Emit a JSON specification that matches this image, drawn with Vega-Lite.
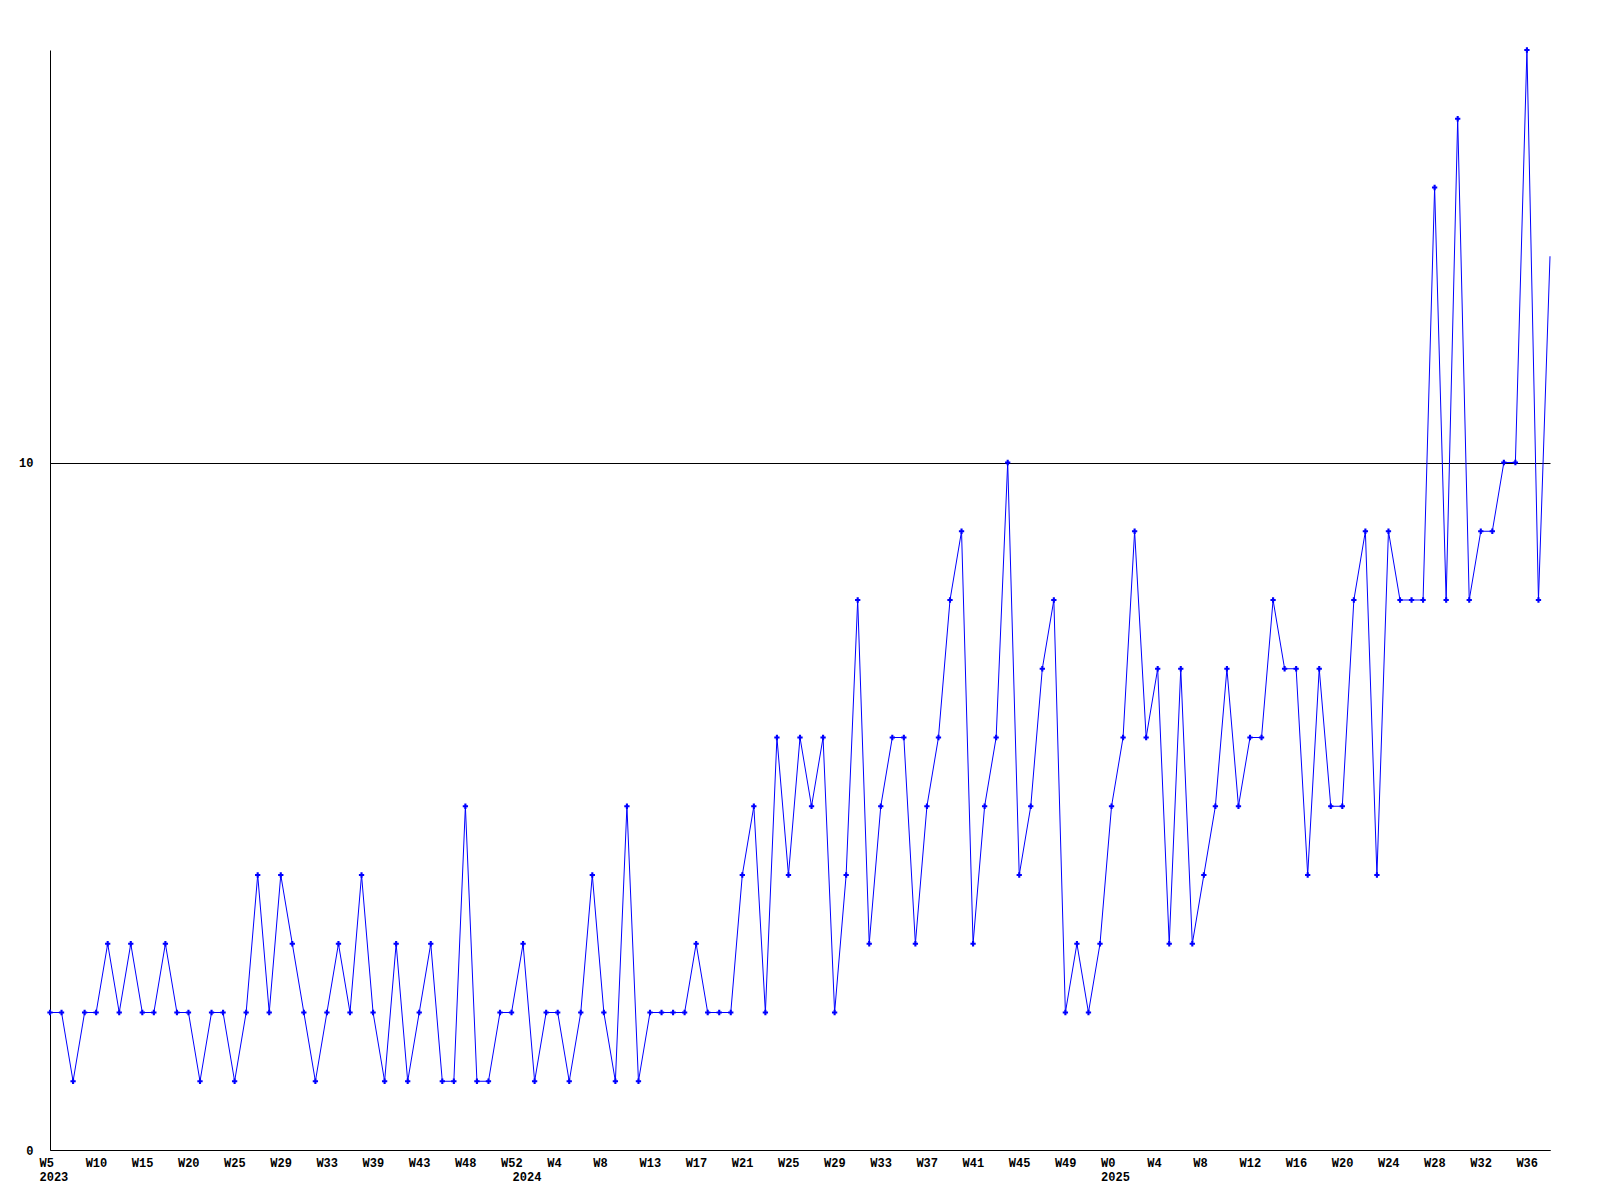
{
  "$schema": "https://vega.github.io/schema/vega-lite/v6.json",
  "width": 1500,
  "height": 1100,
  "autosize": {"type": "none"},
  "padding": {"left": 50, "top": 50, "right": 50, "bottom": 50},
  "background": "white",
  "config": {"view": {"stroke": null}, "font": "Liberation Mono"},
  "data": {"values": [
    {"wk": "2023-W5", "n": 2}, {"wk": "2023-W6", "n": 2}, {"wk": "2023-W7", "n": 1}, {"wk": "2023-W8", "n": 2},
    {"wk": "2023-W10", "n": 2}, {"wk": "2023-W11", "n": 3}, {"wk": "2023-W12", "n": 2}, {"wk": "2023-W13", "n": 3},
    {"wk": "2023-W15", "n": 2}, {"wk": "2023-W16", "n": 2}, {"wk": "2023-W17", "n": 3}, {"wk": "2023-W18", "n": 2},
    {"wk": "2023-W20", "n": 2}, {"wk": "2023-W21", "n": 1}, {"wk": "2023-W22", "n": 2}, {"wk": "2023-W23", "n": 2},
    {"wk": "2023-W25", "n": 1}, {"wk": "2023-W26", "n": 2}, {"wk": "2023-W27", "n": 4}, {"wk": "2023-W28", "n": 2},
    {"wk": "2023-W29", "n": 4}, {"wk": "2023-W30", "n": 3}, {"wk": "2023-W31", "n": 2}, {"wk": "2023-W32", "n": 1},
    {"wk": "2023-W33", "n": 2}, {"wk": "2023-W35", "n": 3}, {"wk": "2023-W37", "n": 2}, {"wk": "2023-W38", "n": 4},
    {"wk": "2023-W39", "n": 2}, {"wk": "2023-W40", "n": 1}, {"wk": "2023-W41", "n": 3}, {"wk": "2023-W42", "n": 1},
    {"wk": "2023-W43", "n": 2}, {"wk": "2023-W45", "n": 3}, {"wk": "2023-W46", "n": 1}, {"wk": "2023-W47", "n": 1},
    {"wk": "2023-W48", "n": 5}, {"wk": "2023-W49", "n": 1}, {"wk": "2023-W50", "n": 1}, {"wk": "2023-W51", "n": 2},
    {"wk": "2023-W52", "n": 2},
    {"wk": "2024-W1", "n": 3}, {"wk": "2024-W2", "n": 1}, {"wk": "2024-W3", "n": 2}, {"wk": "2024-W4", "n": 2},
    {"wk": "2024-W5", "n": 1}, {"wk": "2024-W6", "n": 2}, {"wk": "2024-W7", "n": 4}, {"wk": "2024-W8", "n": 2},
    {"wk": "2024-W10", "n": 1}, {"wk": "2024-W11", "n": 5}, {"wk": "2024-W12", "n": 1}, {"wk": "2024-W13", "n": 2},
    {"wk": "2024-W14", "n": 2}, {"wk": "2024-W15", "n": 2}, {"wk": "2024-W16", "n": 2}, {"wk": "2024-W17", "n": 3},
    {"wk": "2024-W18", "n": 2}, {"wk": "2024-W19", "n": 2}, {"wk": "2024-W20", "n": 2}, {"wk": "2024-W21", "n": 4},
    {"wk": "2024-W22", "n": 5}, {"wk": "2024-W23", "n": 2}, {"wk": "2024-W24", "n": 6}, {"wk": "2024-W25", "n": 4},
    {"wk": "2024-W26", "n": 6}, {"wk": "2024-W27", "n": 5}, {"wk": "2024-W28", "n": 6}, {"wk": "2024-W29", "n": 2},
    {"wk": "2024-W30", "n": 4}, {"wk": "2024-W31", "n": 8}, {"wk": "2024-W32", "n": 3}, {"wk": "2024-W33", "n": 5},
    {"wk": "2024-W34", "n": 6}, {"wk": "2024-W35", "n": 6}, {"wk": "2024-W36", "n": 3}, {"wk": "2024-W37", "n": 5},
    {"wk": "2024-W38", "n": 6}, {"wk": "2024-W39", "n": 8}, {"wk": "2024-W40", "n": 9}, {"wk": "2024-W41", "n": 3},
    {"wk": "2024-W42", "n": 5}, {"wk": "2024-W43", "n": 6}, {"wk": "2024-W44", "n": 10}, {"wk": "2024-W45", "n": 4},
    {"wk": "2024-W46", "n": 5}, {"wk": "2024-W47", "n": 7}, {"wk": "2024-W48", "n": 8}, {"wk": "2024-W49", "n": 2},
    {"wk": "2024-W50", "n": 3}, {"wk": "2024-W51", "n": 2}, {"wk": "2024-W52", "n": 3},
    {"wk": "2025-W0", "n": 5}, {"wk": "2025-W1", "n": 6}, {"wk": "2025-W2", "n": 9}, {"wk": "2025-W3", "n": 6},
    {"wk": "2025-W4", "n": 7}, {"wk": "2025-W5", "n": 3}, {"wk": "2025-W6", "n": 7}, {"wk": "2025-W7", "n": 3},
    {"wk": "2025-W8", "n": 4}, {"wk": "2025-W9", "n": 5}, {"wk": "2025-W10", "n": 7}, {"wk": "2025-W11", "n": 5},
    {"wk": "2025-W12", "n": 6}, {"wk": "2025-W13", "n": 6}, {"wk": "2025-W14", "n": 8}, {"wk": "2025-W15", "n": 7},
    {"wk": "2025-W16", "n": 7}, {"wk": "2025-W17", "n": 4}, {"wk": "2025-W18", "n": 7}, {"wk": "2025-W19", "n": 5},
    {"wk": "2025-W20", "n": 5}, {"wk": "2025-W21", "n": 8}, {"wk": "2025-W22", "n": 9}, {"wk": "2025-W23", "n": 4},
    {"wk": "2025-W24", "n": 9}, {"wk": "2025-W25", "n": 8}, {"wk": "2025-W26", "n": 8}, {"wk": "2025-W27", "n": 8},
    {"wk": "2025-W28", "n": 14}, {"wk": "2025-W29", "n": 8}, {"wk": "2025-W30", "n": 15}, {"wk": "2025-W31", "n": 8},
    {"wk": "2025-W32", "n": 9}, {"wk": "2025-W33", "n": 9}, {"wk": "2025-W34", "n": 10}, {"wk": "2025-W35", "n": 10},
    {"wk": "2025-W36", "n": 16}, {"wk": "2025-W37", "n": 8}, {"wk": "2025-W38", "n": 13}
  ]},
  "encoding": {
    "x": {
      "field": "wk", "type": "ordinal", "sort": null,
      "scale": {"type": "point", "padding": 0},
      "axis": {
        "title": null,
        "values": ["2023-W5", "2023-W10", "2023-W15", "2023-W20", "2023-W25", "2023-W29", "2023-W33", "2023-W39", "2023-W43", "2023-W48", "2023-W52",
                   "2024-W1", "2024-W4", "2024-W8", "2024-W13", "2024-W17", "2024-W21", "2024-W25", "2024-W29", "2024-W33", "2024-W37", "2024-W41", "2024-W45", "2024-W49",
                   "2025-W0", "2025-W4", "2025-W8", "2025-W12", "2025-W16", "2025-W20", "2025-W24", "2025-W28", "2025-W32", "2025-W36"],
        "labelExpr": "datum.value == '2023-W5' ? ['W5', '2023'] : datum.value == '2024-W1' ? ['', '2024'] : datum.value == '2025-W0' ? ['W0', '2025'] : split(datum.value, '-')[1]",
        "labelAngle": 0,
        "labelAlign": "left",
        "labelOffset": -11,
        "labelBaseline": "top",
        "labelPadding": 7,
        "labelLineHeight": 14,
        "labelFont": "Liberation Mono",
        "labelFontWeight": "bold",
        "labelFontSize": 12,
        "labelColor": "black",
        "labelOverlap": false,
        "labelBound": false,
        "labelFlush": false,
        "ticks": false,
        "grid": false,
        "domainColor": "black",
        "domainWidth": 1
      }
    },
    "y": {
      "field": "n", "type": "quantitative",
      "scale": {"domain": [0, 16], "nice": false, "zero": true},
      "axis": {
        "title": null,
        "values": [0, 10],
        "grid": true,
        "gridColor": "black",
        "gridOpacity": 1,
        "gridWidth": 1,
        "ticks": false,
        "labelPadding": 17,
        "labelFont": "Liberation Mono",
        "labelFontWeight": "bold",
        "labelFontSize": 12,
        "labelColor": "black",
        "labelBaseline": "middle",
        "domainColor": "black",
        "domainWidth": 1
      }
    }
  },
  "layer": [
    {"mark": {"type": "line", "color": "#0000ff", "strokeWidth": 1}},
    {
      "mark": {"type": "point", "shape": "cross", "filled": true, "size": 28, "color": "#0000ff"},
      "encoding": {
        "opacity": {"condition": {"test": "datum.wk == '2025-W38'", "value": 0}, "value": 1}
      }
    }
  ]
}
